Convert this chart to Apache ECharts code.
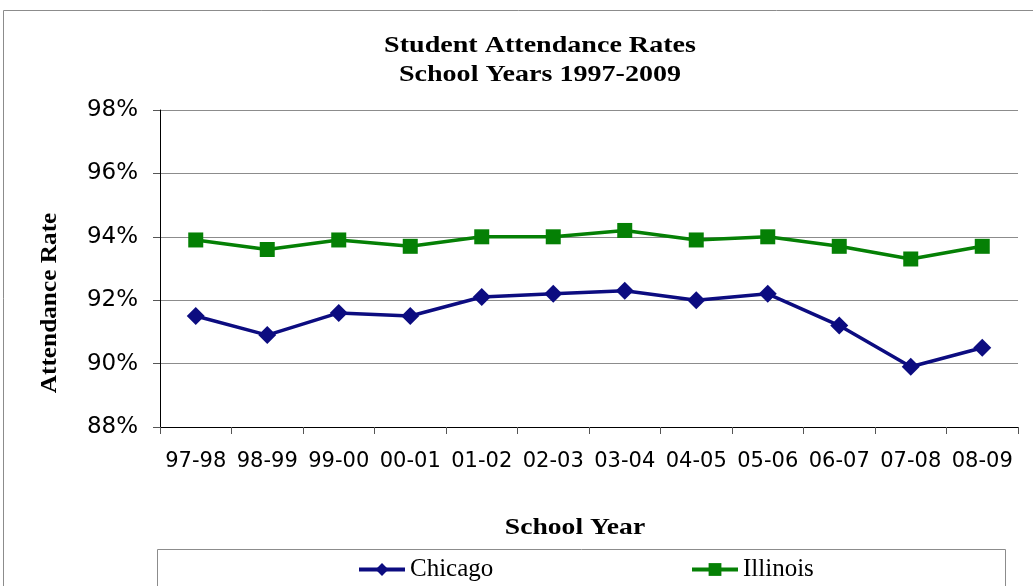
<!DOCTYPE html>
<html>
<head>
<meta charset="utf-8">
<script src="https://cdn.jsdelivr.net/npm/echarts@6/dist/echarts.min.js"></script>
<style>
  html, body { margin: 0; padding: 0; background: #fff; }
  #main { width: 1033px; height: 586px; }
</style>
</head>
<body>
<div id="main"></div>
<script>
var years = ['97-98', '98-99', '99-00', '00-01', '01-02', '02-03', '03-04', '04-05', '05-06', '06-07', '07-08', '08-09'];
var chicago = [91.5, 90.9, 91.6, 91.5, 92.1, 92.2, 92.3, 92.0, 92.2, 91.2, 89.9, 90.5];
var illinois = [93.9, 93.6, 93.9, 93.7, 94.0, 94.0, 94.2, 93.9, 94.0, 93.7, 93.3, 93.7];

var serif = '"Liberation Serif", "Times New Roman", serif';
var sans = '"DejaVu Sans", Arial, sans-serif';
var boldSerif = 'bold 23px ' + serif;

var chart = echarts.init(document.getElementById('main'));
chart.setOption({
    animation: false,
    backgroundColor: '#fff',
    graphic: [
        { type: 'rect', shape: { x: 3.5, y: 10.5, width: 1040, height: 600 }, style: { fill: 'none', stroke: '#8c8c8c', lineWidth: 1 }, z: -1 },
        { type: 'rect', shape: { x: 157.5, y: 549.5, width: 848, height: 40 }, style: { fill: '#fff', stroke: '#8c8c8c', lineWidth: 1 }, z: 0 },
        // title
        { type: 'text', x: 540, y: 46, scaleX: 1.22, style: { text: 'Student Attendance Rates', font: boldSerif, fill: '#000', align: 'center', verticalAlign: 'middle' } },
        { type: 'text', x: 540, y: 75, scaleX: 1.22, style: { text: 'School Years 1997-2009', font: boldSerif, fill: '#000', align: 'center', verticalAlign: 'middle' } },
        // axis titles
        { type: 'text', x: 575, y: 528, scaleX: 1.2, style: { text: 'School Year', font: boldSerif, fill: '#000', align: 'center', verticalAlign: 'middle' } },
        { type: 'text', x: 50, y: 303, rotation: Math.PI / 2, scaleX: 1.1, style: { text: 'Attendance Rate', font: boldSerif, fill: '#000', align: 'center', verticalAlign: 'middle' } }
    ],
    grid: { left: 160, right: 15, top: 110, bottom: 159 },
    legend: [
        {
            data: ['Chicago'], left: 352, top: 552, itemWidth: 46, itemHeight: 16, itemGap: 8,
            lineStyle: { width: 4 },
            textStyle: { fontFamily: serif, fontSize: 25, color: '#000' }
        },
        {
            data: ['Illinois'], left: 685, top: 552, itemWidth: 46, itemHeight: 16, itemGap: 8,
            lineStyle: { width: 4 },
            textStyle: { fontFamily: serif, fontSize: 25, color: '#000' }
        }
    ],
    xAxis: {
        type: 'category',
        data: years,
        boundaryGap: true,
        axisLine: { lineStyle: { color: '#000', width: 1 } },
        axisTick: { show: true, length: 7, interval: 0, lineStyle: { color: '#555' } },
        axisLabel: { fontFamily: sans, fontSize: 21, color: '#000', margin: 24, interval: 0, hideOverlap: false },
        splitLine: { show: false }
    },
    yAxis: {
        type: 'value',
        min: 88,
        max: 98,
        interval: 2,
        axisLine: { show: true, lineStyle: { color: '#000', width: 1 } },
        axisTick: { show: true, length: 7, lineStyle: { color: '#555' } },
        axisLabel: { fontFamily: sans, fontSize: 23, color: '#000', margin: 22, formatter: '{value}%' },
        splitLine: { show: true, lineStyle: { color: '#8c8c8c', width: 1 } }
    },
    series: [
        {
            name: 'Chicago', type: 'line', data: chicago,
            symbol: 'diamond', symbolSize: 18,
            lineStyle: { color: '#0c0c80', width: 3.5 },
            itemStyle: { color: '#0c0c80' }
        },
        {
            name: 'Illinois', type: 'line', data: illinois,
            symbol: 'rect', symbolSize: 15,
            lineStyle: { color: '#058005', width: 3.5 },
            itemStyle: { color: '#058005' }
        }
    ]
});
</script>
</body>
</html>
